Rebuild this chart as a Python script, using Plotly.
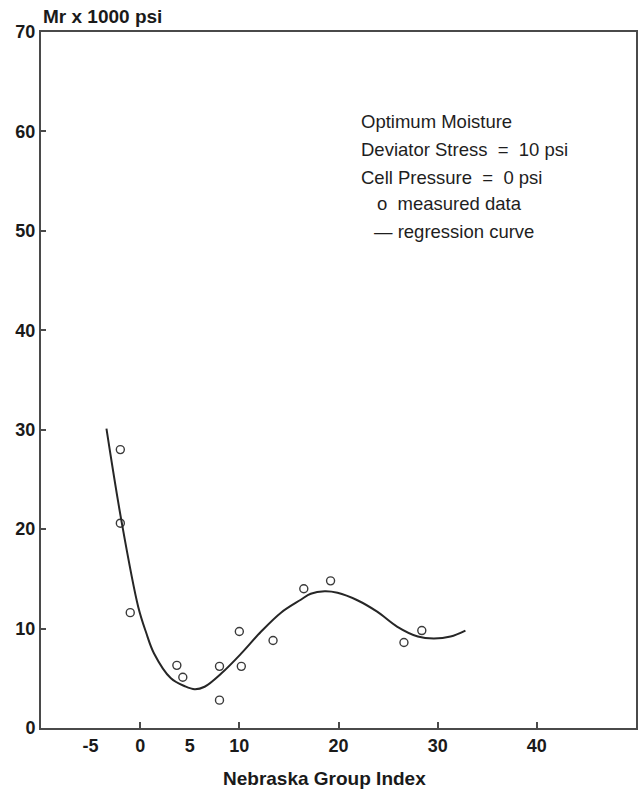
import plotly.graph_objects as go

# Measured data (Nebraska Group Index vs Mr x 1000 psi)
gi_measured = [-2.0, -2.0, -1.0, 3.7, 4.3, 8.0, 8.0, 10.0, 10.2, 13.4, 16.5, 19.2, 26.6, 28.4]
mr_measured = [28.0, 20.6, 11.6, 6.3, 5.1, 6.2, 2.8, 9.7, 6.2, 8.8, 14.0, 14.8, 8.6, 9.8]

# Regression curve
gi_curve = [-3.4, -1.9, -0.2, 0.6, 1.4, 3.1, 4.5, 5.5, 6.5, 8.2, 10.2, 12.2, 14.2, 16.2,
            17.2, 18.6, 19.9, 21.9, 23.9, 25.9, 28.0, 29.6, 31.3, 32.8]
mr_curve = [30.1, 20.9, 12.2, 9.6, 7.5, 5.0, 4.2, 3.9, 4.15, 5.5, 7.5, 9.7, 11.6, 12.9,
            13.5, 13.75, 13.6, 12.85, 11.7, 10.2, 9.2, 9.0, 9.2, 9.8]

x_tick_labels = [-5, 0, 5, 10, 20, 30, 40]
x_tick_marks = [0, 10, 20, 30, 40]
y_ticks = [0, 10, 20, 30, 40, 50, 60, 70]

legend_lines = [
    "Optimum Moisture",
    "Deviator Stress\u00a0\u00a0=\u00a0\u00a010 psi",
    "Cell Pressure\u00a0\u00a0=\u00a0\u00a00 psi",
    "o\u00a0\u00a0measured data",
    "\u2014\u00a0regression curve",
]

FONT = "Liberation Sans"
X_RANGE = [-10, 50]
Y_RANGE = [0, 70]

fig = go.Figure()

fig.add_trace(go.Scatter(
    x=gi_curve, y=mr_curve, mode="lines",
    line=dict(color="#262626", width=2, shape="spline", smoothing=1.0),
    xaxis="x2", yaxis="y", showlegend=False, hoverinfo="skip",
))

fig.add_trace(go.Scatter(
    x=gi_measured, y=mr_measured, mode="markers",
    marker=dict(symbol="circle-open", size=8, color="#3a3a3a", line=dict(width=1.4, color="#3a3a3a")),
    xaxis="x", yaxis="y", showlegend=False,
))

tickfont = dict(family=FONT, size=18, color="#1a1a1a", weight="bold")

fig.update_layout(
    width=639, height=790,
    margin=dict(l=41, r=1, t=32, b=62),
    paper_bgcolor="white", plot_bgcolor="white",
    xaxis=dict(
        range=X_RANGE, tickmode="array", tickvals=x_tick_labels,
        ticktext=[str(v) for v in x_tick_labels],
        ticks="", showgrid=False, zeroline=False,
        showline=True, linecolor="#4a4a4a", linewidth=2, mirror=True,
        tickfont=tickfont, ticklabelstandoff=0,
    ),
    xaxis2=dict(
        range=X_RANGE, overlaying="x", side="bottom", tickmode="array",
        tickvals=x_tick_marks, ticks="inside", ticklen=6, tickwidth=1.5,
        tickcolor="#4a4a4a", showticklabels=False, showgrid=False,
        zeroline=False, showline=False,
    ),
    yaxis=dict(
        range=Y_RANGE, tickmode="array", tickvals=y_ticks,
        ticktext=[str(v) for v in y_ticks],
        ticks="inside", ticklen=5, tickwidth=1.5, tickcolor="#4a4a4a",
        showgrid=False, zeroline=False,
        showline=True, linecolor="#4a4a4a", linewidth=2, mirror=True,
        tickfont=tickfont, ticklabelstandoff=0,
    ),
)

# Axis titles
fig.add_annotation(
    text="Mr x 1000 psi", xref="paper", yref="paper", x=0, y=1,
    xanchor="left", yanchor="bottom", yshift=3, showarrow=False,
    font=dict(family=FONT, size=19, color="#1a1a1a", weight="bold"),
)
fig.add_annotation(
    text="Nebraska Group Index", xref="paper", yref="paper", x=0.476, y=0,
    xanchor="center", yanchor="middle", yshift=-50, showarrow=False,
    font=dict(family=FONT, size=19, color="#1a1a1a", weight="bold"),
)

# Legend-like text block
legend_y_px = [121.7, 149.3, 177.3, 204.0, 231.0]
legend_x_px = [360, 360, 360, 376, 373]
for txt, xp, yp in zip(legend_lines, legend_x_px, legend_y_px):
    fig.add_annotation(
        text=txt, xref="paper", yref="paper",
        x=(xp - 41) / 597, y=1 - (yp - 32) / 696,
        xanchor="left", yanchor="middle", showarrow=False,
        font=dict(family=FONT, size=18.5, color="#1e1e1e"),
    )

fig.write_html(
    "out.html",
    config={"displayModeBar": False},
    post_script="document.body.style.margin='0';document.body.style.padding='0';",
)
